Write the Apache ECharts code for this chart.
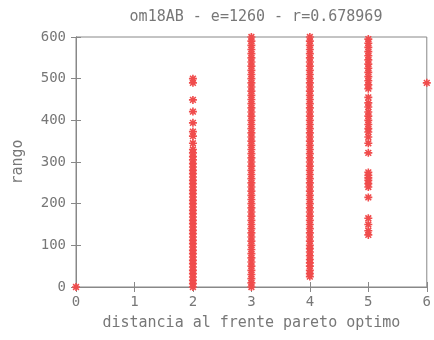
<!DOCTYPE html>
<html>
<head>
<meta charset="utf-8">
<script src="https://cdn.jsdelivr.net/npm/echarts@6/dist/echarts.min.js"></script>
<style>
  html, body { margin: 0; padding: 0; background: #fff; }
  #chart { width: 434px; height: 340px; }
</style>
</head>
<body>
<div id="chart"></div>
<script>
// title and axis names
const chartTitle = 'om18AB - e=1260 - r=0.678969'
const xName = 'distancia al frente pareto optimo'
const yName = 'rango'

// rango values, one list per distancia column
const rangoD0 = [0]
const rangoD2 = [0, 8, 16, 24, 32, 40, 48, 56, 64, 72, 80, 88, 96, 104, 112, 120, 128, 136, 144, 152,
  160, 168, 176, 184, 192, 200, 208, 216, 224, 232, 240, 248, 256, 264, 272, 280, 288, 296, 305, 313,
  322, 330, 345, 362, 373, 394, 421, 449, 490, 500]
const rangoD3 = [0, 10, 20, 30, 40, 50, 60, 70, 80, 90, 100, 110, 120, 130, 140, 150, 160, 170, 180, 190,
  200, 210, 220, 230, 240, 250, 260, 270, 280, 290, 300, 310, 320, 330, 340, 350, 360, 370, 380, 390,
  400, 410, 420, 430, 440, 450, 460, 470, 480, 490, 500, 510, 520, 530, 540, 550, 560, 570, 580, 590, 600]
const rangoD4 = [25, 32, 40, 50, 58, 66, 75, 84, 92, 100, 110, 120, 130, 140, 150, 160, 170, 180, 190,
  200, 210, 220, 230, 240, 250, 260, 270, 280, 290, 300, 310, 320, 330, 340, 350, 360, 370, 380, 390,
  400, 410, 420, 430, 440, 450, 460, 470, 480, 490, 500, 510, 520, 530, 540, 550, 560, 570, 580, 590, 600]
const rangoD5 = [125, 135, 150, 165, 215, 240, 248, 256, 262, 268, 275, 322, 345, 360, 372, 380, 390, 400,
  410, 420, 432, 442, 455, 476, 485, 495, 505, 515, 525, 535, 545, 555, 565, 575, 585, 595]
const rangoD6 = [490]

const columns = [[0, rangoD0], [2, rangoD2], [3, rangoD3], [4, rangoD4], [5, rangoD5], [6, rangoD6]]
const points = []
columns.forEach(c => c[1].forEach(v => points.push([c[0], v])))

// gnuplot style asterisk, heavy strokes
const asterisk = 'path://M0,4H10V6H0Z M4,0H6V10H4Z M0.7,2.1L2.1,0.7L9.3,7.9L7.9,9.3Z M9.3,2.1L2.1,9.3L0.7,7.9L7.9,0.7Z'

const grey = '#777'
const font = 'DejaVu Sans Mono'

const myChart = echarts.init(document.getElementById('chart'))
const option = {
  animation: false,
  title: {
    text: chartTitle,
    left: 251,
    top: 5,
    textAlign: 'center',
    textStyle: { fontFamily: font, fontSize: 15, fontWeight: 'normal', color: grey }
  },
  grid: {
    left: 76,
    right: 7,
    top: 37,
    bottom: 53,
    show: true,
    borderColor: '#888',
    borderWidth: 1
  },
  xAxis: [
    {
      type: 'value',
      min: 0,
      max: 6,
      interval: 1,
      name: xName,
      nameLocation: 'middle',
      nameGap: 29,
      nameTextStyle: { fontFamily: font, fontSize: 15, color: grey },
      axisLine: { lineStyle: { color: '#888' } },
      axisTick: { inside: true, length: 5, lineStyle: { color: '#888' } },
      axisLabel: { fontFamily: font, fontSize: 14, color: grey, margin: 8 },
      splitLine: { show: false }
    },
    {
      type: 'value',
      position: 'top',
      min: 0,
      max: 6,
      interval: 1,
      axisLine: { lineStyle: { color: '#888' } },
      axisTick: { inside: true, length: 5, lineStyle: { color: '#888' } },
      axisLabel: { show: false },
      splitLine: { show: false }
    }
  ],
  yAxis: [
    {
      type: 'value',
      min: 0,
      max: 600,
      interval: 100,
      name: yName,
      nameLocation: 'middle',
      nameGap: 50,
      nameTextStyle: { fontFamily: font, fontSize: 15, color: grey },
      axisLine: { show: true, lineStyle: { color: '#888' } },
      axisTick: { show: true, inside: true, length: 5, lineStyle: { color: '#888' } },
      axisLabel: { fontFamily: font, fontSize: 14, color: grey, margin: 10 },
      splitLine: { show: false }
    },
    {
      type: 'value',
      position: 'right',
      min: 0,
      max: 600,
      interval: 100,
      axisLine: { show: true, lineStyle: { color: '#888' } },
      axisTick: { show: true, inside: true, length: 5, lineStyle: { color: '#888' } },
      axisLabel: { show: false },
      splitLine: { show: false }
    }
  ],
  series: [
    {
      type: 'scatter',
      xAxisIndex: 0,
      yAxisIndex: 0,
      symbol: asterisk,
      symbolSize: 8,
      itemStyle: { color: '#f04c4c', opacity: 1 },
      data: points
    }
  ]
}
myChart.setOption(option)
</script>
</body>
</html>
